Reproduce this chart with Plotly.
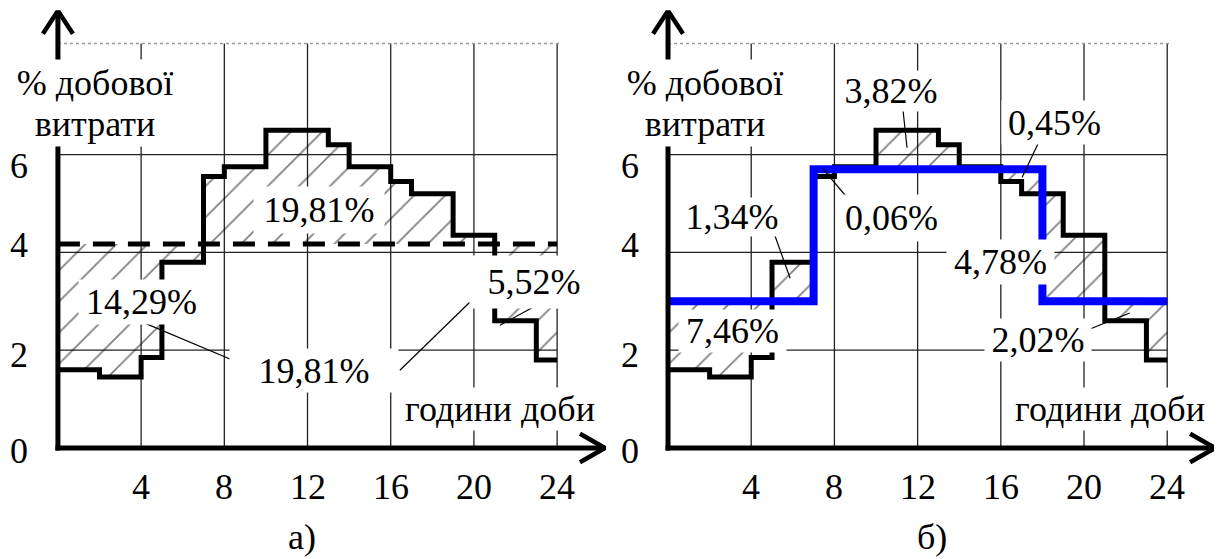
import plotly.graph_objects as go

# ---------------- data ----------------
hours = list(range(25))
consumption = [1.6, 1.6, 1.45, 1.45, 1.85, 3.8, 3.8, 5.55, 5.75, 5.75, 6.5, 6.5,
               6.5, 6.2, 5.75, 5.75, 5.45, 5.2, 5.2, 4.35, 4.35, 2.6, 2.6, 1.8]
average = 4.17
pump = [3.0] * 7 + [5.7] * 11 + [3.0] * 6
x_ticks = [4, 8, 12, 16, 20, 24]
y_ticks = [0, 2, 4, 6]
y_label = ["% добової", "витрати"]
x_label = "години доби"
panel_titles = ["а)", "б)"]
labels_a = ["19,81%", "14,29%", "19,81%", "5,52%"]
labels_b = ["3,82%", "1,34%", "0,06%", "0,45%", "4,78%", "2,02%", "7,46%"]

# ---------------- geometry / style ----------------
W, H = 1214, 551          # page body adds an 8px margin
PXU_X, PXU_Y = 20.8, 48.9
XR = [-2.4, 26.5]
YR = [-2.2, 8.95]
FONT = dict(family="Liberation Serif, Times New Roman, serif", size=36, color="black")
GRID_TOP = 8.27
X_END, Y_END = 26.3, 8.94

fig = go.Figure()


def steps(vals):
    xs, ys = [], []
    for i, v in enumerate(vals):
        xs += [hours[i], hours[i + 1]]
        ys += [v, v]
    return xs, ys


cx, cy = steps(consumption)
px_, py_ = steps(pump)
ax_ = [hours[0], hours[-1]]
ay_ = [average, average]

hatch = dict(shape="/", size=22, solidity=0.08, fgcolor="black",
             bgcolor="rgba(0,0,0,0)", fillmode="overlay")

panels = [("x", "y"), ("x2", "y2")]
shapes = []
annotations = []


def line_trace(xa, ya, x, y, color="black", width=1.2, dash=None):
    fig.add_trace(go.Scatter(x=x, y=y, xaxis=xa, yaxis=ya, mode="lines",
                             line=dict(color=color, width=width, dash=dash),
                             hoverinfo="skip", showlegend=False))


def ann(xa, ya, x, y, text, w=None, h=None, bg=False):
    d = dict(x=x, y=y, xref=xa, yref=ya, text=text, showarrow=False, font=FONT,
             xanchor="center", yanchor="middle")
    if bg:
        d.update(bgcolor="white", width=w, height=h, borderpad=0)
    annotations.append(d)


for k, (xa, ya) in enumerate(panels):
    # grid lines
    for xv in x_ticks:
        shapes.append(dict(type="line", xref=xa, yref=ya, x0=xv, x1=xv, y0=0, y1=GRID_TOP,
                           line=dict(color="#222", width=1.3), layer="below"))
    for yv in y_ticks[1:]:
        shapes.append(dict(type="line", xref=xa, yref=ya, x0=0, x1=24, y0=yv, y1=yv,
                           line=dict(color="#222", width=1.3), layer="below"))
    shapes.append(dict(type="line", xref=xa, yref=ya, x0=0, x1=24.2, y0=GRID_TOP, y1=GRID_TOP,
                       line=dict(color="#9a9a9a", width=1.5, dash="dot"), layer="below"))

    # hatched area between consumption and reference line
    if k == 0:
        ref_x, ref_y = ax_, ay_
    else:
        ref_x, ref_y = px_, py_
    fig.add_trace(go.Scatter(x=ref_x, y=ref_y, xaxis=xa, yaxis=ya, mode="lines",
                             line=dict(width=0, color="rgba(0,0,0,0)"),
                             hoverinfo="skip", showlegend=False))
    fig.add_trace(go.Scatter(x=cx, y=cy, xaxis=xa, yaxis=ya, mode="lines",
                             line=dict(width=0, color="rgba(0,0,0,0)"),
                             fill="tonexty", fillcolor="rgba(0,0,0,0)", fillpattern=hatch,
                             hoverinfo="skip", showlegend=False))

    # consumption curve
    line_trace(xa, ya, cx, cy, width=5)
    if k == 0:
        line_trace(xa, ya, ax_, ay_, width=5, dash="22px,13px")
    else:
        line_trace(xa, ya, px_, py_, color="#0000ff", width=8)

    # axes with arrows
    line_trace(xa, ya, [-0.12, X_END], [0, 0], width=5)
    line_trace(xa, ya, [X_END - 1.2, X_END, X_END - 1.2], [0.29, 0, -0.29], width=4.5)
    line_trace(xa, ya, [0, 0], [-0.05, Y_END], width=5)
    line_trace(xa, ya, [-0.72, 0, 0.72], [Y_END - 0.47, Y_END, Y_END - 0.47], width=4.5)

    # tick labels
    for xv in x_ticks:
        ann(xa, ya, xv, -0.8, str(xv))
    y_pos = {0: -0.06, 2: 1.9, 4: 4.16, 6: 5.76}
    for yv in y_ticks:
        ann(xa, ya, -1.85, y_pos[yv], str(yv))

    # axis titles
    ann(xa, ya, 1.78, 7.47, y_label[0], w=170, h=45, bg=True)
    ann(xa, ya, 1.78, 6.62, y_label[1], w=170, h=44, bg=True)
    ann(xa, ya, 21.25, 0.79, x_label, w=208, h=42, bg=True)
    ann(xa, ya, 11.73 if k == 0 else 12.7, -1.82, panel_titles[k])

# ---- panel a labels ----
leaders_a = [([4.09, 8.27], [2.57, 1.82]), ([16.44, 19.8], [1.59, 2.98]),
             ([22.93, 21.25], [2.9, 2.51])]
for lx, ly in leaders_a:
    line_trace("x", "y", lx, ly, width=1.2)
ann("x", "y", 12.55, 4.87, labels_a[0], w=130, h=46, bg=True)
ann("x", "y", 4.04, 2.98, labels_a[1], w=125, h=44, bg=True)
ann("x", "y", 12.3, 1.59, labels_a[2], w=168, h=43, bg=True)
ann("x", "y", 22.9, 3.40, labels_a[3], w=128, h=52, bg=True)

# ---- panel b labels ----
leaders_b = [([11.25, 11.49], [7.1, 6.14]), ([5.0, 5.87], [4.51, 3.47]),
             ([7.45, 8.85], [5.71, 5.0]), ([18.13, 17.02], [6.53, 5.53]),
             ([19.57, 22.2], [2.31, 2.76])]
for lx, ly in leaders_b:
    line_trace("x2", "y2", lx, ly, width=1.2)
ann("x2", "y2", 10.72, 7.31, labels_b[0], w=108, h=40, bg=True)
ann("x2", "y2", 3.08, 4.72, labels_b[1], w=108, h=38, bg=True)
ann("x2", "y2", 10.72, 4.70, labels_b[2], w=107, h=46, bg=True)
ann("x2", "y2", 18.6, 6.65, labels_b[3], w=105, h=43, bg=True)
ann("x2", "y2", 16.0, 3.80, labels_b[4], w=107, h=44, bg=True)
ann("x2", "y2", 17.8, 2.20, labels_b[5], w=106, h=42, bg=True)
ann("x2", "y2", 3.1, 2.40, labels_b[6], w=107, h=42, bg=True)

ax_common = dict(visible=False, showgrid=False, zeroline=False, fixedrange=True)
span_x = (XR[1] - XR[0]) * PXU_X
span_y = (YR[1] - YR[0]) * PXU_Y
y_zero_px = 440.0                      # pixel of y=0 inside the figure
y_bot_px = y_zero_px + (0 - YR[0]) * PXU_Y
y0 = (H - y_bot_px) / H
y1 = y0 + span_y / H
x1_0 = 0.0
x2_0 = 610.1 / W
fig.update_layout(
    width=W, height=H, margin=dict(l=0, r=0, t=0, b=0, pad=0),
    plot_bgcolor="white", paper_bgcolor="white", showlegend=False,
    font=FONT,
    xaxis=dict(range=XR, domain=[x1_0, span_x / W], anchor="y", **ax_common),
    yaxis=dict(range=YR, domain=[max(0, y0), min(1, y1)], anchor="x", **ax_common),
    xaxis2=dict(range=XR, domain=[x2_0, min(1.0, x2_0 + span_x / W)], anchor="y2", **ax_common),
    yaxis2=dict(range=YR, domain=[max(0, y0), min(1, y1)], anchor="x2", **ax_common),
    shapes=shapes, annotations=annotations,
)
fig.write_html("out.html")
